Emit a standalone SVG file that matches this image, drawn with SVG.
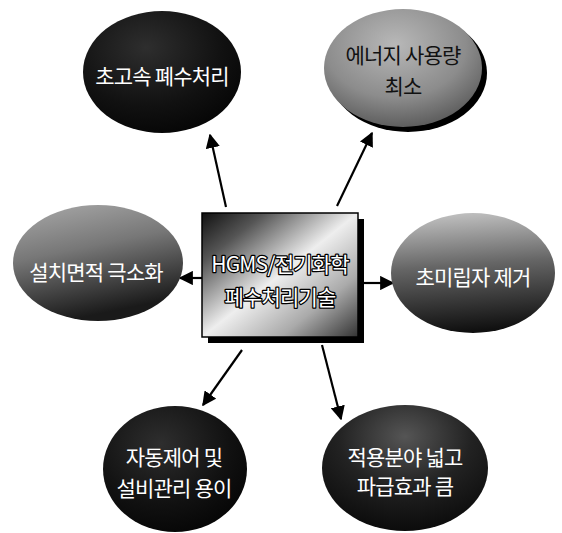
<svg xmlns="http://www.w3.org/2000/svg" width="562" height="533" viewBox="0 0 562 533">
<style>
.t{font-family:"Noto Sans CJK KR","Noto Sans",sans-serif;font-size:21px;text-anchor:middle;dominant-baseline:central;letter-spacing:-0.8px}
.w{fill:#fff}
.b{fill:#111}
.o{fill:#fff;stroke:#000;stroke-width:2.5px;paint-order:stroke;stroke-linejoin:round}
.sh{fill:#000}
.edge{stroke:#000;stroke-width:2.2;fill:none;marker-end:url(#ah)}
</style>
<defs>
<marker id="ah" viewBox="0 0 10 10" refX="9" refY="5" markerWidth="6.5" markerHeight="6.5" orient="auto" markerUnits="strokeWidth">
<path d="M0,0 L10,5 L0,10 z" fill="#000"/>
</marker>
<radialGradient id="gDark" cx="0.4" cy="0.3" r="0.8">
<stop offset="0" stop-color="#2e2e2e"/>
<stop offset="0.6" stop-color="#111"/>
<stop offset="1" stop-color="#030303"/>
</radialGradient>
<radialGradient id="gGray" cx="0.45" cy="0.3" r="0.75">
<stop offset="0" stop-color="#b8b8b8"/>
<stop offset="0.6" stop-color="#8c8c8c"/>
<stop offset="1" stop-color="#555"/>
</radialGradient>
<linearGradient id="gMid" x1="0" y1="0" x2="0.3" y2="1">
<stop offset="0" stop-color="#aaa"/>
<stop offset="0.45" stop-color="#777"/>
<stop offset="1" stop-color="#1a1a1a"/>
</linearGradient>
<linearGradient id="gMid2" x1="0.2" y1="0" x2="0.3" y2="1">
<stop offset="0" stop-color="#c4c4c4"/>
<stop offset="0.45" stop-color="#666"/>
<stop offset="1" stop-color="#101010"/>
</linearGradient>
<radialGradient id="gDark2" cx="0.5" cy="0.25" r="0.8">
<stop offset="0" stop-color="#555"/>
<stop offset="0.5" stop-color="#222"/>
<stop offset="1" stop-color="#080808"/>
</radialGradient>
<linearGradient id="gBox" x1="0" y1="0" x2="1" y2="1">
<stop offset="0" stop-color="#111"/>
<stop offset="0.2" stop-color="#555"/>
<stop offset="0.5" stop-color="#eee"/>
<stop offset="0.75" stop-color="#aaa"/>
<stop offset="1" stop-color="#333"/>
</linearGradient>
</defs>

<g id="connectors">
<line class="edge" x1="226" y1="207" x2="210" y2="135"/>
<line class="edge" x1="337" y1="206" x2="372" y2="133"/>
<line class="edge" x1="202" y1="278" x2="180" y2="278"/>
<line class="edge" x1="364" y1="283" x2="393" y2="283"/>
<line class="edge" x1="242" y1="350" x2="203" y2="405"/>
<line class="edge" x1="322" y1="345" x2="341" y2="419"/>
</g>

<g id="n-speed">
<ellipse cx="162" cy="72" rx="79" ry="61" fill="url(#gDark)"/>
<text class="t w" x="162" y="75">초고속 폐수처리</text>
</g>

<g id="n-energy">
<ellipse cx="408" cy="73" rx="79" ry="59" class="sh"/>
<ellipse cx="403" cy="68" rx="79" ry="59" fill="url(#gGray)"/>
<text class="t b" x="403" y="54">에너지 사용량</text>
<text class="t b" x="403" y="85">최소</text>
</g>

<g id="n-area">
<ellipse cx="98" cy="263" rx="85" ry="58" fill="url(#gMid)"/>
<text class="t w" x="96" y="271">설치면적 극소화</text>
</g>

<g id="n-center">
<rect x="208" y="219" width="156" height="124" class="sh"/>
<rect x="202" y="213" width="156" height="124" fill="url(#gBox)" stroke="#000" stroke-width="1.5"/>
<text class="t o" x="280" y="263">HGMS/전기화학</text>
<text class="t o" x="280" y="296">폐수처리기술</text>
</g>

<g id="n-particle">
<ellipse cx="473" cy="273" rx="82" ry="60" fill="url(#gMid2)"/>
<text class="t w" x="473" y="276">초미립자 제거</text>
</g>

<g id="n-auto">
<ellipse cx="175" cy="469" rx="72" ry="63" fill="url(#gDark)"/>
<text class="t w" x="174" y="456">자동제어 및</text>
<text class="t w" x="174" y="487">설비관리 용이</text>
</g>

<g id="n-wide">
<ellipse cx="405" cy="468" rx="83" ry="63" fill="url(#gDark2)"/>
<text class="t w" x="405" y="456">적용분야 넓고</text>
<text class="t w" x="405" y="485">파급효과 큼</text>
</g>
</svg>
